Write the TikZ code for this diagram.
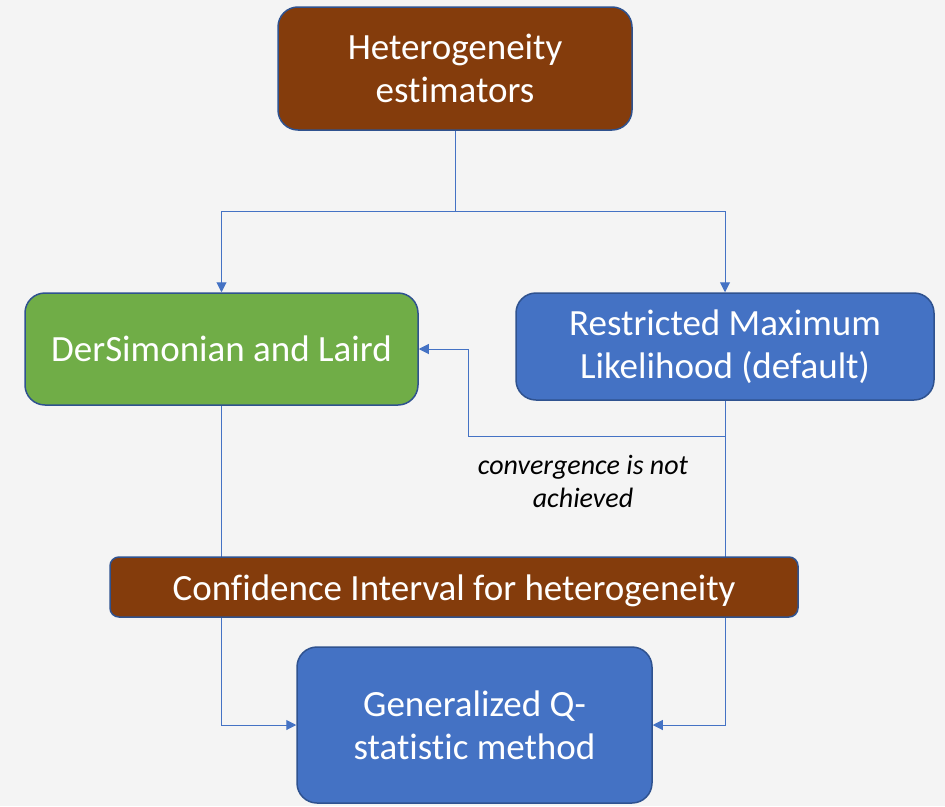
\documentclass[tikz,border=0pt]{standalone}
\usepackage{fontspec}
\setmainfont{Carlito}[Ligatures=NoCommon]
\usetikzlibrary{arrows.meta}
\definecolor{bgcol}{HTML}{F4F4F4}
\definecolor{brownfill}{HTML}{843C0C}
\definecolor{greenfill}{HTML}{70AD47}
\definecolor{bluefill}{HTML}{4472C4}
\definecolor{edgeblue}{HTML}{2F528F}
\definecolor{linkblue}{HTML}{4472C4}
\tikzset{
  box/.style={draw=edgeblue, line width=1.5pt, rounded corners=20pt, text=white,
    align=center, inner sep=0pt, font=\fontsize{37}{43}\selectfont},
  link/.style={draw=linkblue, line width=1pt, -{Triangle[length=10pt,width=10pt]}},
  plainlink/.style={draw=linkblue, line width=1pt},
}
\begin{document}
\begin{tikzpicture}[x=1pt, y=-1pt]
  \fill[bgcol] (0,0) rectangle (945,806);
  \useasboundingbox (0,0) rectangle (945,806);

  \node[box, fill=brownfill, minimum width=354pt, minimum height=123pt] (top) at (455,68.5)
    {Heterogeneity\\estimators};
  \node[box, fill=greenfill, minimum width=393pt, minimum height=112pt] (dsl) at (221.5,349)
    {DerSimonian and Laird};
  \node[box, fill=bluefill, minimum width=418pt, minimum height=107pt] (reml) at (725,346.5)
    {Restricted Maximum\\Likelihood (default)};
  \node[box, fill=bluefill, minimum width=355pt, minimum height=156pt] (q) at (474.5,725)
    {Generalized Q-\\statistic method};

  % split from the estimators box to the two methods
  \coordinate (split) at (455,211);
  \draw[plainlink] (top.south) -- (split);
  \draw[link] (split) -| (dsl.north);
  \draw[link] (split) -| (reml.north);

  % fallback when REML does not converge
  \coordinate (bend) at (468,436);
  \draw[link] (reml.south) |- (bend) |- (dsl.east);
  \node[font=\fontsize{28}{33}\selectfont\itshape, align=center] (note) at (583,481)
    {convergence is not\\achieved};

  % both methods feed the Q-statistic method
  \draw[link] (reml.south) |- (q.east);
  \draw[link] (dsl.south) |- (q.west);

  % confidence interval bar drawn over the connectors
  \node[box, fill=brownfill, rounded corners=9pt, minimum width=688pt, minimum height=60pt,
        text height=34pt, text depth=8pt] (ci) at (454,587)
    {Confidence Interval for heterogeneity};
\end{tikzpicture}
\end{document}
